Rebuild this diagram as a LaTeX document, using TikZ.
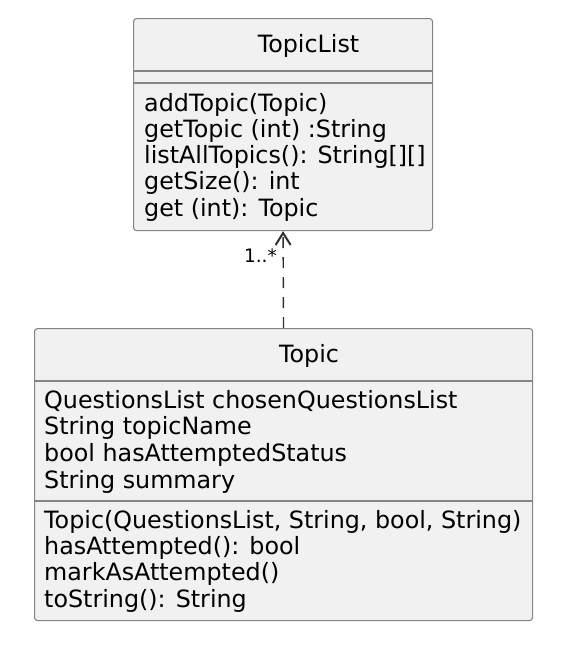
\documentclass[tikz,border=0pt]{standalone}
\usepackage{fontspec}
\setmainfont{DejaVu Sans}
\usetikzlibrary{arrows.meta}
\definecolor{classfond}{HTML}{F1F1F1}
\definecolor{classbord}{HTML}{858585}
\definecolor{lienc}{HTML}{303030}
\begin{document}
\begin{tikzpicture}[x=1pt,y=-1pt]
\tikzset{classe/.style={draw=classbord, fill=classfond, line width=1.1pt, rounded corners=3pt, inner sep=0pt, anchor=north west},
  ligne/.style={anchor=base west, inner sep=0pt, font=\fontsize{23.8}{26.5}\selectfont},
  titre/.style={anchor=base, inner sep=0pt, font=\fontsize{23.8}{26.5}\selectfont},
  sep/.style={draw=classbord, line width=1.1pt},
  lien/.style={draw=lienc, line width=1.4pt, dash pattern=on 11pt off 9pt, -{Straight Barb[length=12pt, width=15pt, line width=2pt]}}}
\useasboundingbox (0,0) rectangle (568,646);
\node[classe, minimum width=299pt, minimum height=212pt] (TL) at (133,18) {};
\node[classe, minimum width=498pt, minimum height=292pt] (T) at (34,328) {};
\node[titre] (TLnom) at (308.5,52.7) {TopicList};
\node[titre] (Tnom) at (309,362.7) {Topic};
\draw[sep] (TL.west |- 0,71) -- (TL.east |- 0,71);
\draw[sep] (TL.west |- 0,83) -- (TL.east |- 0,83);
\draw[sep] (T.west |- 0,381) -- (T.east |- 0,381);
\draw[sep] (T.west |- 0,501) -- (T.east |- 0,501);
\foreach \m [count=\i from 0] in {{addTopic(Topic)}, {getTopic (int) :String}, {listAllTopics(): String[][]}, {getSize(): int}, {get (int): Topic}}
  \node[ligne] (TLm\i) at (144, {111+26.25*\i}) {\m};
\foreach \a [count=\i from 0] in {{QuestionsList chosenQuestionsList}, {String topicName}, {bool hasAttemptedStatus}, {String summary}}
  \node[ligne] (Ta\i) at (44, {408+26.7*\i}) {\a};
\foreach \m [count=\i from 0] in {{Topic(QuestionsList, String, bool, String)}, {hasAttempted(): bool}, {markAsAttempted()}, {toString(): String}}
  \node[ligne] (Tm\i) at (44, {528+26.4*\i}) {\m};
\draw[lien] (T.north) -- (TL.south);
\node[anchor=east, inner sep=0pt, font=\fontsize{18.5}{21}\selectfont] (mult) at (277,256) {1..*};
\end{tikzpicture}
\end{document}
